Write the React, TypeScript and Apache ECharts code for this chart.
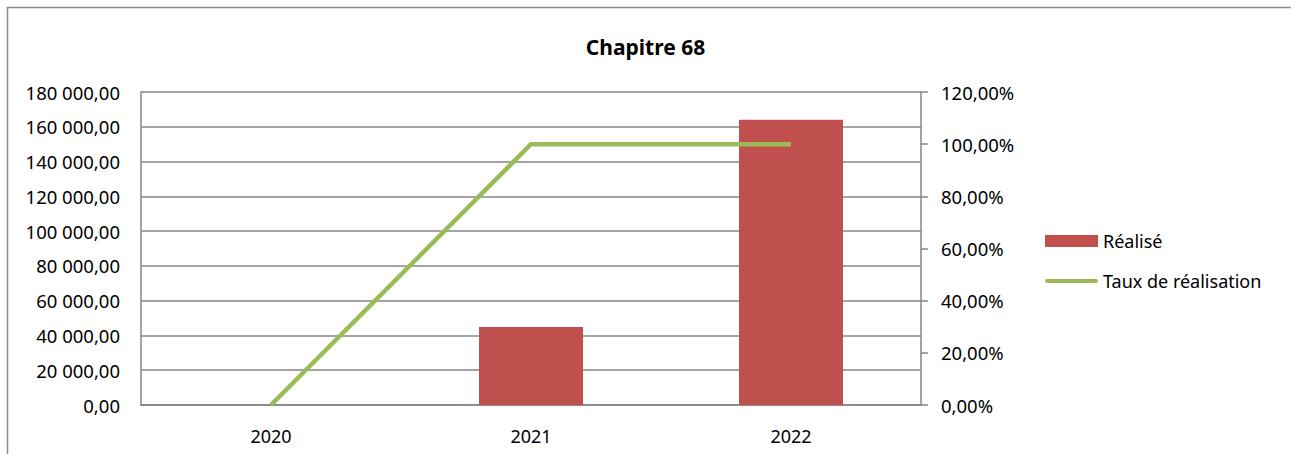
import React, { useEffect, useRef } from "react";
import * as echarts from "echarts";

const categories = ["2020", "2021", "2022"];
const realise = [0, 44800, 164000];
const tauxRealisation = [0, 100, 100];
const leftTicks = { min: 0, max: 180000, interval: 20000 };
const rightTicks = { min: 0, max: 120, interval: 20 };

const FONT = "'Noto Sans', 'Open Sans', sans-serif";

function fmtNumber(v: number): string {
  const s = Math.round(v).toString().replace(/\B(?=(\d{3})+(?!\d))/g, " ");
  return s + ",00";
}
function fmtPct(v: number): string {
  return v.toFixed(2).replace(".", ",") + "%";
}

export default function App() {
  const ref = useRef<HTMLDivElement>(null);
  useEffect(() => {
    document.body.style.margin = "0";
    const chart = echarts.init(ref.current!, null, { renderer: "svg" });
    chart.setOption({
      animation: false,
      backgroundColor: "#ffffff",
      title: {
        text: "Chapitre 68",
        left: "center",
        top: 31,
        textStyle: { fontFamily: FONT, fontSize: 21, fontWeight: "bold", color: "#000" },
      },
      graphic: [
        {
          type: "rect",
          shape: { x: 7.5, y: 7.5, width: 1400, height: 600 },
          style: { fill: "none", stroke: "#8c8c8c", lineWidth: 1.5 },
          silent: true,
        },
      ],
      legend: {
        orient: "vertical",
        left: 1040,
        top: 227,
        itemWidth: 53,
        itemHeight: 12,
        itemGap: 22,
        textStyle: { fontFamily: FONT, fontSize: 18, color: "#000" },
        data: [
          { name: "Réalisé", icon: "rect" },
          {
            name: "Taux de réalisation",
            icon: "path://M2,0 L50,0 A2,2 0 0 1 50,4 L2,4 A2,2 0 0 1 2,0 Z",
            itemStyle: { color: "#9bbb59" },
          },
        ],
      },
      grid: { left: 141, right: 370, top: 92, bottom: 49, containLabel: false },
      xAxis: {
        type: "category",
        data: categories,
        axisLine: { lineStyle: { color: "#868686", width: 1.5 } },
        axisTick: { show: false },
        axisLabel: { fontFamily: FONT, fontSize: 18, color: "#000", margin: 22 },
      },
      yAxis: [
        {
          type: "value",
          min: leftTicks.min,
          max: leftTicks.max,
          interval: leftTicks.interval,
          axisLine: { show: true, lineStyle: { color: "#868686", width: 1.5 } },
          axisTick: { show: false },
          splitLine: { show: true, lineStyle: { color: "#868686", width: 1.5 } },
          axisLabel: { fontFamily: FONT, fontSize: 18.5, color: "#000", margin: 21, formatter: fmtNumber },
        },
        {
          type: "value",
          min: rightTicks.min,
          max: rightTicks.max,
          interval: rightTicks.interval,
          position: "right",
          axisLine: { show: true, lineStyle: { color: "#868686", width: 1.5 } },
          axisTick: { show: true, length: 7, lineStyle: { color: "#868686", width: 1.5 } },
          splitLine: { show: false },
          axisLabel: { fontFamily: FONT, fontSize: 18.5, color: "#000", margin: 20, formatter: fmtPct },
        },
      ],
      series: [
        {
          name: "Réalisé",
          type: "bar",
          data: realise,
          barWidth: 104,
          itemStyle: { color: "#c0504d" },
        },
        {
          name: "Taux de réalisation",
          type: "line",
          yAxisIndex: 1,
          data: tauxRealisation,
          symbol: "none",
          lineStyle: { color: "#9bbb59", width: 4.5 },
          itemStyle: { color: "#9bbb59" },
        },
      ],
    });
    return () => chart.dispose();
  }, []);
  return <div ref={ref} style={{ width: 1291, height: 454 }} />;
}
